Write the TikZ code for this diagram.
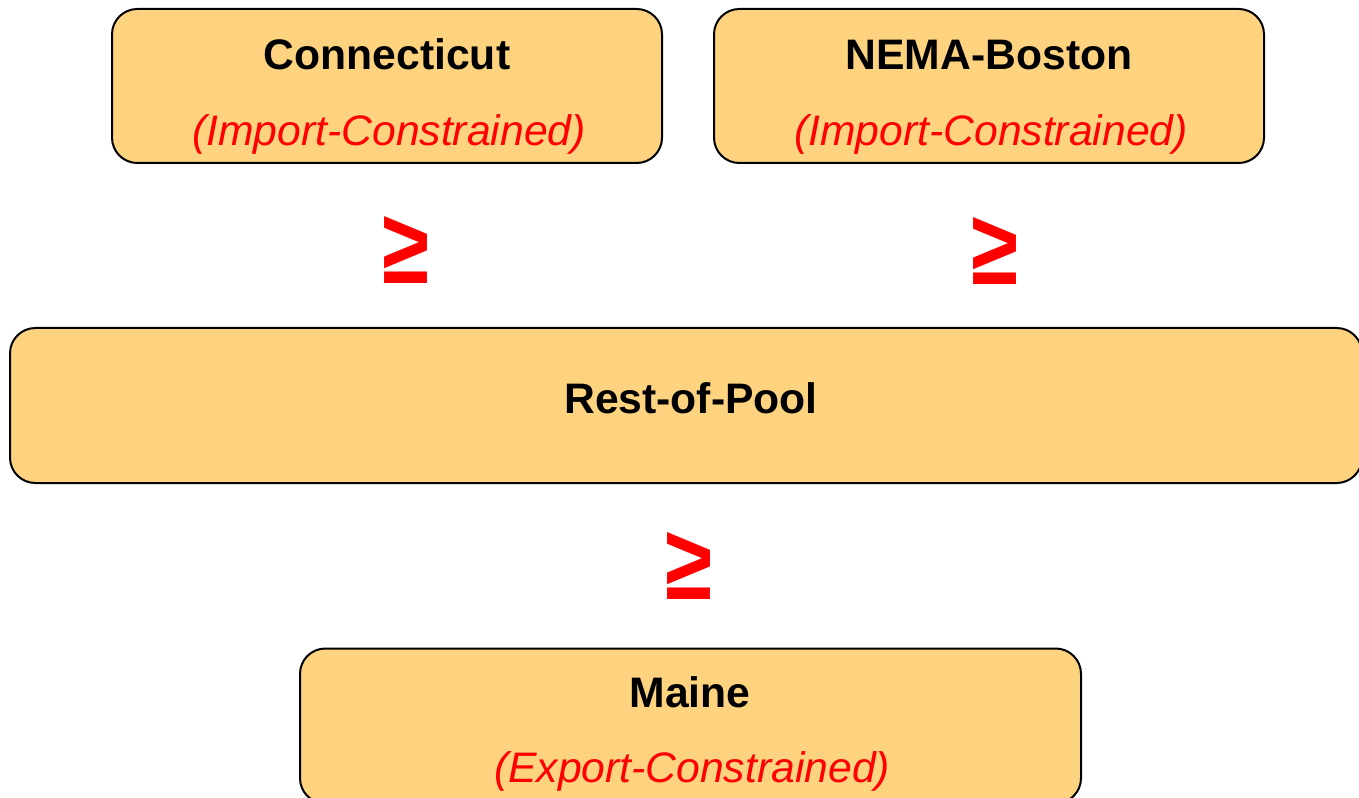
\documentclass[tikz,border=0pt]{standalone}
\usepackage{fontspec}
\usepackage{graphicx}
\setmainfont{Liberation Sans}
\definecolor{boxfill}{RGB}{253,211,128}
\definecolor{txtred}{RGB}{255,0,0}
\tikzset{
  zone/.style={draw=black, line width=1.5pt, fill=boxfill, rounded corners=19pt, inner sep=0pt},
  title/.style={anchor=base, font=\fontsize{32}{38}\selectfont\bfseries, text=black, inner sep=0pt},
  sub/.style={anchor=base, font=\fontsize{32}{38}\selectfont\itshape, text=txtred, inner sep=0pt},
  geq/.style={inner sep=0pt, text=txtred}
}
\newcommand{\geqsign}{\resizebox{35.25pt}{50.25pt}{\bfseries ≥}}
\begin{document}
\begin{tikzpicture}[x=0.75pt,y=-0.75pt]
\useasboundingbox (0,0) rectangle (1359,798);
\clip (0,0) rectangle (1359,798);
% boxes
\node[zone, minimum width=412.5pt, minimum height=115.5pt] (ct) at (387,86) {};
\node[zone, minimum width=412.5pt, minimum height=115.5pt] (nema) at (989,86) {};
\node[zone, minimum width=1014pt, minimum height=116.25pt] (rop) at (686,405.5) {};
\node[zone, minimum width=585.75pt, minimum height=116.25pt] (me) at (690.5,726) {};
% texts
\node[title] (ctt) at (387,70) {Connecticut};
\node[sub] (cts) at (389,146) {(Import-Constrained)};
\node[title] (nemat) at (989,70) {NEMA-Boston};
\node[sub] (nemas) at (991,146) {(Import-Constrained)};
\node[title] (ropt) at (691,413) {Rest-of-Pool};
\node[title] (met) at (690,707) {Maine};
\node[sub] (mes) at (692,782) {(Export-Constrained)};
% geq signs
\node[geq] (g1) at (405.5,249.5) {\geqsign};
\node[geq] (g2) at (995,250.5) {\geqsign};
\node[geq] (g3) at (688.5,565.5) {\geqsign};
\end{tikzpicture}
\end{document}
